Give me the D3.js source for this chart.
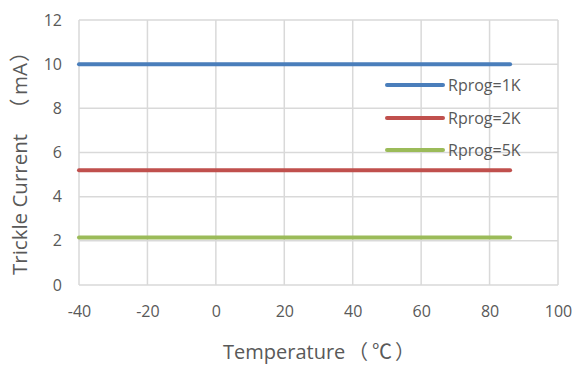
<!DOCTYPE html>
<html>
<head>
<meta charset="utf-8">
<script src="https://cdn.jsdelivr.net/npm/d3@7"></script>
<style>
  html, body { margin: 0; padding: 0; background: #fff; }
  svg { display: block; font-family: "Open Sans", "Noto Sans", sans-serif; }
</style>
</head>
<body>
<svg id="chart" width="577" height="365"></svg>
<script>
// Trickle current vs temperature for three Rprog values
const seriesNames = ["Rprog=1K", "Rprog=2K", "Rprog=5K"];
const seriesColors = ["#4a7ebb", "#c0504d", "#9bbb59"];
const temperatures = [-40, 86];
const current1K = [10, 10];
const current2K = [5.2, 5.2];
const current5K = [2.15, 2.15];
const xTicks = [-40, -20, 0, 20, 40, 60, 80, 100];
const yTicks = [0, 2, 4, 6, 8, 10, 12];

const seriesValues = [current1K, current2K, current5K];

const svg = d3.select("#chart");
const margin = { left: 79, right: 19, top: 20, bottom: 80 };
const W = 577, H = 365;
const textColor = "#595959";
const fontStack = "'Open Sans', 'Noto Sans', sans-serif";
const cjkStack = "'Open Sans', 'Noto Sans CJK SC', sans-serif";
const cjkOnly = "'Noto Sans CJK SC', sans-serif";

const x = d3.scaleLinear().domain([-40, 100]).range([margin.left, W - margin.right]);
const y = d3.scaleLinear().domain([0, 12]).range([H - margin.bottom, margin.top]);

const grid = svg.append("g");
// vertical gridlines
grid.selectAll("line.vx").data(xTicks).enter().append("line")
  .attr("x1", d => x(d)).attr("x2", d => x(d))
  .attr("y1", y(0)).attr("y2", y(12))
  .attr("stroke", "#d9d9d9").attr("stroke-width", 1.5);
// horizontal gridlines
grid.selectAll("line.hy").data(yTicks).enter().append("line")
  .attr("x1", x(-40)).attr("x2", x(100))
  .attr("y1", d => y(d)).attr("y2", d => y(d))
  .attr("stroke", "#d9d9d9").attr("stroke-width", 1.5);

// axes (labels only; lines drawn by the grid)
const plain = d => String(d);
const xAxis = svg.append("g")
  .attr("transform", `translate(0,${y(0)})`)
  .call(d3.axisBottom(x).tickValues(xTicks).tickFormat(plain).tickSize(0).tickPadding(21));
const yAxis = svg.append("g")
  .attr("transform", `translate(${x(-40)},0)`)
  .call(d3.axisLeft(y).tickValues(yTicks).tickFormat(plain).tickSize(0).tickPadding(17));
[xAxis, yAxis].forEach(a => {
  a.select(".domain").remove();
  a.selectAll("text").attr("font-size", 16).attr("fill", textColor)
    .attr("font-family", fontStack);
});

// series lines
const line = d3.line().x((d, i) => x(temperatures[i])).y(d => y(d));
svg.append("g").selectAll("path").data(seriesValues).enter().append("path")
  .attr("d", d => line(d))
  .attr("fill", "none")
  .attr("stroke", (d, i) => seriesColors[i])
  .attr("stroke-width", 4)
  .attr("stroke-linecap", "round");

// legend
const legendY = [85, 118, 150];
const legend = svg.append("g");
seriesNames.forEach((name, i) => {
  legend.append("line")
    .attr("x1", 387).attr("x2", 443)
    .attr("y1", legendY[i]).attr("y2", legendY[i])
    .attr("stroke", seriesColors[i]).attr("stroke-width", 4)
    .attr("stroke-linecap", "round");
  legend.append("text")
    .attr("x", 448).attr("y", legendY[i] + 6)
    .attr("font-size", 16).attr("fill", textColor)
    .attr("font-family", fontStack)
    .text(name);
});

// x axis title
const xt = svg.append("text")
  .attr("y", 359)
  .attr("font-size", 20).attr("fill", textColor)
  .attr("font-family", cjkStack);
xt.append("tspan").attr("x", 223).text("Temperature");
xt.append("tspan").attr("x", 348).attr("font-family", cjkOnly).text("（");
xt.append("tspan").attr("x", 372).attr("font-family", cjkOnly).text("℃");
xt.append("tspan").attr("x", 395).attr("font-family", cjkOnly).text("）");

// y axis title (rotated)
const yt = svg.append("text")
  .attr("transform", "translate(27,0) rotate(-90)")
  .attr("font-size", 20.5).attr("fill", textColor)
  .attr("font-family", cjkStack);
yt.append("tspan").attr("x", -275).text("Trickle Current");
yt.append("tspan").attr("x", -119).attr("font-family", cjkOnly).text("（");
yt.append("tspan").attr("x", -95).text("mA");
yt.append("tspan").attr("x", -62).attr("font-family", cjkOnly).text("）");
</script>
</body>
</html>
